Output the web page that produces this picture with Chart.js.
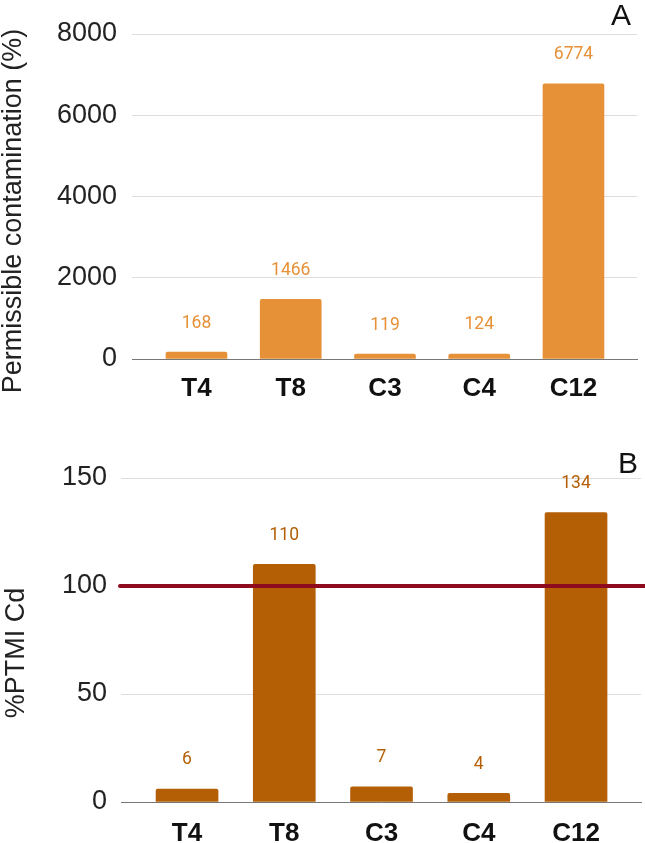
<!DOCTYPE html>
<html>
<head>
<meta charset="utf-8">
<script src="https://cdn.jsdelivr.net/npm/chart.js@4.4.1/dist/chart.umd.min.js"></script>
<style>
  html, body { margin: 0; padding: 0; background: #fff; }
  canvas { display: block; }
</style>
</head>
<body>
<canvas id="chartA" width="645" height="421"></canvas>
<canvas id="chartB" width="645" height="422"></canvas>
<script>
// data
var categories = ["T4", "T8", "C3", "C4", "C12"];
var permissible = [168, 1466, 119, 124, 6774];
var ptmiCd = [6, 110, 7, 4, 134];
var ptmiLimit = 100;
var ticksA = [0, 2000, 4000, 6000, 8000];
var ticksB = [0, 50, 100, 150];

var orangeA = "#e69138";
var orangeB = "#b45f06";
var limitRed = "#8e0b1e";

function points(values) {
  return values.map(function(v, i) { return {x: i, y: v}; });
}

// value labels above each bar
var barLabels = {
  id: "barLabels",
  afterDatasetsDraw: function(chart) {
    var ctx = chart.ctx;
    var ds = chart.data.datasets[0];
    ctx.save();
    ctx.font = "17.5px Roboto";
    ctx.fillStyle = ds.backgroundColor;
    ctx.textAlign = "center";
    ctx.textBaseline = "middle";
    chart.getDatasetMeta(0).data.forEach(function(bar, i) {
      ctx.fillText(ds.data[i].y, bar.x, bar.y - 29);
    });
    ctx.restore();
  }
};

// y title + panel letter, drawn where the figure has them
var sideText = {
  id: "sideText",
  afterDraw: function(chart, args, opts) {
    var ctx = chart.ctx;
    ctx.save();
    ctx.fillStyle = "#222";
    ctx.font = "27px 'Liberation Sans'";
    ctx.textAlign = "center";
    ctx.textBaseline = "middle";
    ctx.translate(opts.titleX, opts.titleY);
    ctx.rotate(-Math.PI / 2);
    ctx.fillText(opts.title, 0, 0);
    ctx.restore();

    ctx.save();
    ctx.fillStyle = "#111";
    ctx.font = "30px 'Liberation Sans'";
    ctx.textAlign = "center";
    ctx.textBaseline = "alphabetic";
    ctx.fillText(opts.letter, opts.letterX, opts.letterY);
    ctx.restore();
  }
};

// horizontal limit line (100 %PTMI)
var limitLine = {
  id: "limitLine",
  afterDatasetsDraw: function(chart, args, opts) {
    if (!opts.value) return;
    var ctx = chart.ctx;
    var y = chart.scales.y.getPixelForValue(opts.value);
    ctx.save();
    ctx.strokeStyle = opts.color;
    ctx.lineWidth = 4;
    ctx.lineCap = "round";
    ctx.beginPath();
    ctx.moveTo(chart.chartArea.left - 1, y);
    ctx.lineTo(chart.width + 2, y);
    ctx.stroke();
    ctx.restore();
  }
};

function makeChart(id, values, color, yMax, yTicks, s) {
  return new Chart(id, {
    type: "bar",
    data: {
      datasets: [{
        data: points(values),
        backgroundColor: color,
        barThickness: s.barW,
        borderRadius: 2
      }]
    },
    options: {
      responsive: false,
      animation: false,
      layout: {padding: {top: s.top, right: s.right, left: 0, bottom: 0}},
      plugins: {
        legend: {display: false},
        tooltip: {enabled: false},
        sideText: s.text,
        limitLine: {value: s.limit, color: limitRed}
      },
      scales: {
        x: {
          type: "linear",
          offset: false,
          min: s.xMin,
          max: s.xMax,
          afterBuildTicks: function(scale) {
            scale.ticks = categories.map(function(c, i) { return {value: i}; });
          },
          afterFit: function(scale) { scale.height = s.xH; },
          ticks: {
            callback: function(v) { return categories[v]; },
            font: {family: "'Liberation Sans'", size: 26, weight: "bold"},
            color: "#111",
            padding: s.xPad,
            maxRotation: 0
          },
          grid: {display: false, drawTicks: false, offset: false},
          border: {display: true, color: "#777", width: 1}
        },
        y: {
          min: 0,
          max: yMax,
          afterBuildTicks: function(scale) {
            scale.ticks = yTicks.map(function(v) { return {value: v}; });
          },
          afterFit: function(scale) { scale.width = s.yW; },
          ticks: {
            callback: function(v) { return String(v); },
            font: {family: "'Liberation Sans'", size: 27},
            color: "#222",
            padding: s.yPad
          },
          grid: {color: "#dedede", drawTicks: false},
          border: {display: false}
        }
      }
    },
    plugins: [barLabels, sideText, limitLine]
  });
}

makeChart("chartA", permissible, orangeA, 8000, ticksA, {
  barW: 61, top: 34, right: 8, xMin: -0.684, xMax: 4.674,
  xH: 62, xPad: 14, yW: 132, yPad: 15, limit: null,
  text: {title: "Permissible contamination (%)", titleX: 14, titleY: 211,
         letter: "A", letterX: 621, letterY: 25}
});

makeChart("chartB", ptmiCd, orangeB, 150, ticksB, {
  barW: 62, top: 57, right: 4, xMin: -0.679, xMax: 4.668,
  xH: 41, xPad: 16, yW: 121, yPad: 14, limit: ptmiLimit,
  text: {title: "%PTMI Cd", titleX: 17, titleY: 232,
         letter: "B", letterX: 628, letterY: 52}
});
</script>
</body>
</html>
